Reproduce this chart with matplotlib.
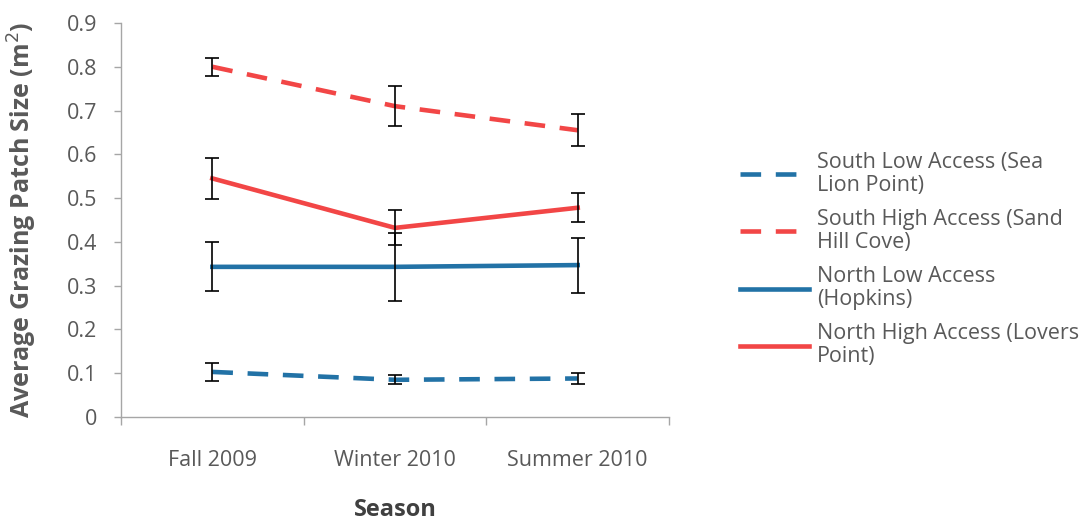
import numpy as np
import matplotlib.pyplot as plt

plt.rcParams['font.family'] = ['Open Sans', 'DejaVu Sans']

seasons = ['Fall 2009', 'Winter 2010', 'Summer 2010']

south_low = [0.103, 0.085, 0.088]
south_low_err = [0.020, 0.010, 0.013]
south_high = [0.800, 0.710, 0.655]
south_high_err = [0.020, 0.045, 0.037]
north_low = [0.343, 0.343, 0.347]
north_low_err = [0.056, 0.078, 0.063]
north_high = [0.545, 0.432, 0.478]
north_high_err = [0.046, 0.040, 0.033]

labels = ['South Low Access (Sea\nLion Point)',
          'South High Access (Sand\nHill Cove)',
          'North Low Access\n(Hopkins)',
          'North High Access (Lovers\nPoint)']

blue = '#2272A6'
red = '#F24646'
txt = '#595959'
dash = (0, (4.5, 3.2))

fig = plt.figure(figsize=(10.87, 5.25), dpi=100)
ax = fig.add_axes([0.1113, 0.2057, 0.5042, 0.7505])

x = np.arange(len(seasons))
series = [
    (south_low, south_low_err, blue, dash),
    (south_high, south_high_err, red, dash),
    (north_low, north_low_err, blue, '-'),
    (north_high, north_high_err, red, '-'),
]
handles = []
for (y, e, c, ls), lab in zip(series, labels):
    h, = ax.plot(x, y, color=c, ls=ls, lw=3.3, label=lab, zorder=2)
    handles.append(h)
    ax.errorbar(x, y, yerr=e, fmt='none', ecolor='black', elinewidth=1.2,
                capsize=5, capthick=1.2, zorder=3)

ax.set_xlim(-0.5, 2.5)
ax.set_ylim(0, 0.9)
ax.set_yticks(np.arange(0, 0.91, 0.1))
ax.set_yticklabels(['0'] + [f'{v:.1f}' for v in np.arange(0.1, 0.91, 0.1)])
ax.set_xticks(x)
ax.set_xticklabels(seasons)
ax.set_xticks([-0.5, 0.5, 1.5, 2.5], minor=True)

for s in ['top', 'right']:
    ax.spines[s].set_visible(False)
for s in ['left', 'bottom']:
    ax.spines[s].set_color('#A6A6A6')
    ax.spines[s].set_linewidth(1)

ax.tick_params(axis='y', colors='#A6A6A6', labelcolor=txt, labelsize=15.5,
               length=5, width=1, pad=12)
ax.tick_params(axis='x', which='major', length=0, labelcolor=txt,
               labelsize=15.5, pad=24)
ax.tick_params(axis='x', which='minor', length=6, width=1, colors='#A6A6A6')

ax.set_ylabel('Average Grazing Patch Size (m$^2$)', fontsize=18,
              fontweight='bold', color=txt)
ax.yaxis.set_label_coords(-0.15, 0.5)
ax.set_xlabel('Season', fontsize=17, fontweight='bold', color='#404040')
ax.xaxis.set_label_coords(0.5, -0.205)

leg = fig.legend(handles=handles, loc='upper left',
                 bbox_to_anchor=(0.663, 0.748), frameon=False,
                 fontsize=15.5, handlelength=3.2, handletextpad=0.36,
                 labelspacing=0.62, labelcolor=txt)
for t in leg.get_texts():
    t.set_linespacing(1.12)

fig.savefig('out.png', dpi=100)
